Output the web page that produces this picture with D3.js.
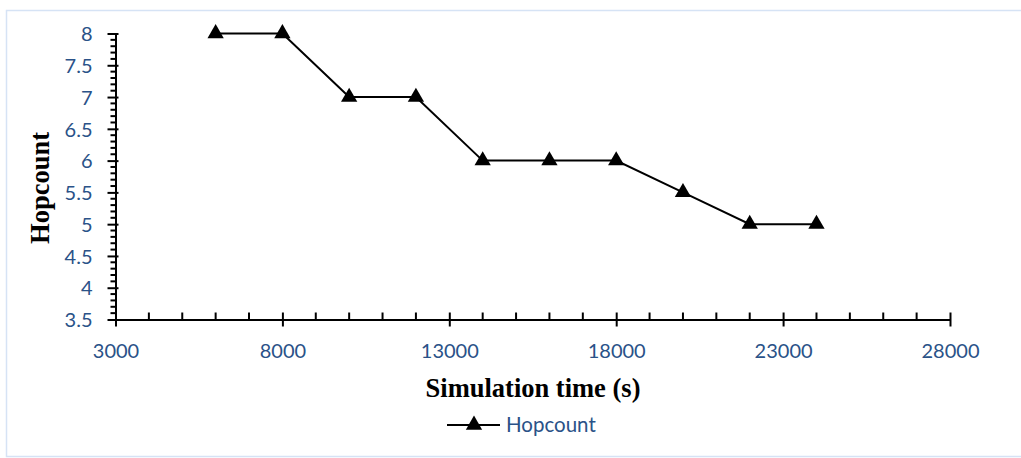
<!DOCTYPE html>
<html>
<head>
<meta charset="utf-8">
<script src="https://cdn.jsdelivr.net/npm/d3@7"></script>
<style>
  html, body { margin: 0; padding: 0; background: #fff; }
  svg { display: block; }
</style>
</head>
<body>
<svg id="chart" width="1021" height="458"></svg>
<script>
// Hop count over simulation time
const simTime  = [6000, 8000, 10000, 12000, 14000, 16000, 18000, 20000, 22000, 24000];
const hopcount = [8, 8, 7, 7, 6, 6, 6, 5.5, 5, 5];
const xTicks = [3000, 8000, 13000, 18000, 23000, 28000];
const yTicks = [3.5, 4, 4.5, 5, 5.5, 6, 6.5, 7, 7.5, 8];
const seriesName = "Hopcount";

const labelColor = "#2A5288";
const labelFont = "Lato, 'Open Sans', sans-serif";
const titleFont = "'Liberation Serif', 'Times New Roman', serif";
const svg = d3.select("#chart");

// chart-area border
svg.append("rect")
  .attr("x", 6.5).attr("y", 10.5)
  .attr("width", 1030).attr("height", 446)
  .attr("fill", "none")
  .attr("stroke", "#D6E3F5")
  .attr("stroke-width", 1.5);

const x = d3.scaleLinear().domain([3000, 28000]).range([115.5, 950]);
const y = d3.scaleLinear().domain([3.5, 8]).range([319.5, 33.5]);

// minor ticks
const xMinor = d3.range(3000, 28001, 1000).filter(v => !xTicks.includes(v));
const yMinor = d3.range(35, 81, 1).map(v => v / 10).filter(v => !yTicks.includes(v));

const axG = svg.append("g").attr("stroke", "#000").attr("stroke-width", 2);
axG.selectAll("line.xminor").data(xMinor).join("line")
  .attr("x1", d => x(d)).attr("x2", d => x(d))
  .attr("y1", y(3.5) - 7).attr("y2", y(3.5));
axG.selectAll("line.yminor").data(yMinor).join("line")
  .attr("x1", x(3000) - 5).attr("x2", x(3000))
  .attr("y1", d => y(d)).attr("y2", d => y(d));

// axes with crossing major ticks
const xAxis = d3.axisBottom(x).tickValues(xTicks).tickSize(0).tickFormat(d3.format("d"));
const yAxis = d3.axisLeft(y).tickValues(yTicks).tickSize(0).tickFormat(d => d3.format("")(d));

const gx = svg.append("g").attr("transform", `translate(0,${y(3.5)})`).call(xAxis);
const gy = svg.append("g").attr("transform", `translate(${x(3000)},0)`).call(yAxis);

[gx, gy].forEach(g => {
  g.select(".domain").attr("stroke", "#000").attr("stroke-width", 2);
  g.selectAll("text")
    .attr("fill", labelColor)
    .style("font-family", labelFont)
    .style("font-size", "20px");
});
gx.selectAll(".tick").append("line")
  .attr("y1", -7).attr("y2", 7).attr("stroke", "#000").attr("stroke-width", 2);
gy.selectAll(".tick").append("line")
  .attr("x1", -8).attr("x2", 3).attr("stroke", "#000").attr("stroke-width", 2);
gx.selectAll("text").attr("y", 38).attr("dy", 0);
gy.selectAll("text").attr("x", -23).attr("dy", "0.36em");

// axis titles
svg.append("text")
  .attr("x", 533).attr("y", 397)
  .attr("text-anchor", "middle")
  .style("font-family", titleFont)
  .style("font-weight", "bold")
  .style("font-size", "26.5px")
  .text("Simulation time (s)");

svg.append("text")
  .attr("transform", "translate(49,188) rotate(-90)")
  .attr("text-anchor", "middle")
  .style("font-family", titleFont)
  .style("font-weight", "bold")
  .style("font-size", "26.5px")
  .text("Hopcount");

// series
const pts = simTime.map((t, i) => ({ t, v: hopcount[i] }));
const line = d3.line().x(d => x(d.t)).y(d => y(d.v));
svg.append("path")
  .datum(pts)
  .attr("d", line)
  .attr("fill", "none")
  .attr("stroke", "#000")
  .attr("stroke-width", 2);

const tri = d3.symbol().type(d3.symbolTriangle).size(115);
svg.selectAll("path.marker").data(pts).join("path")
  .attr("class", "marker")
  .attr("d", tri)
  .attr("transform", d => `translate(${x(d.t)},${y(d.v)})`)
  .attr("fill", "#000");

// legend
const lg = svg.append("g").attr("transform", "translate(447,425)");
lg.append("line").attr("x1", 0).attr("x2", 53).attr("y1", 0).attr("y2", 0)
  .attr("stroke", "#000").attr("stroke-width", 2);
lg.append("path").attr("d", tri).attr("transform", "translate(27,0)").attr("fill", "#000");
lg.append("text").attr("x", 59).attr("y", 0).attr("dy", "0.36em")
  .attr("fill", labelColor)
  .style("font-family", labelFont)
  .style("font-size", "20.5px")
  .text(seriesName);
</script>
</body>
</html>
